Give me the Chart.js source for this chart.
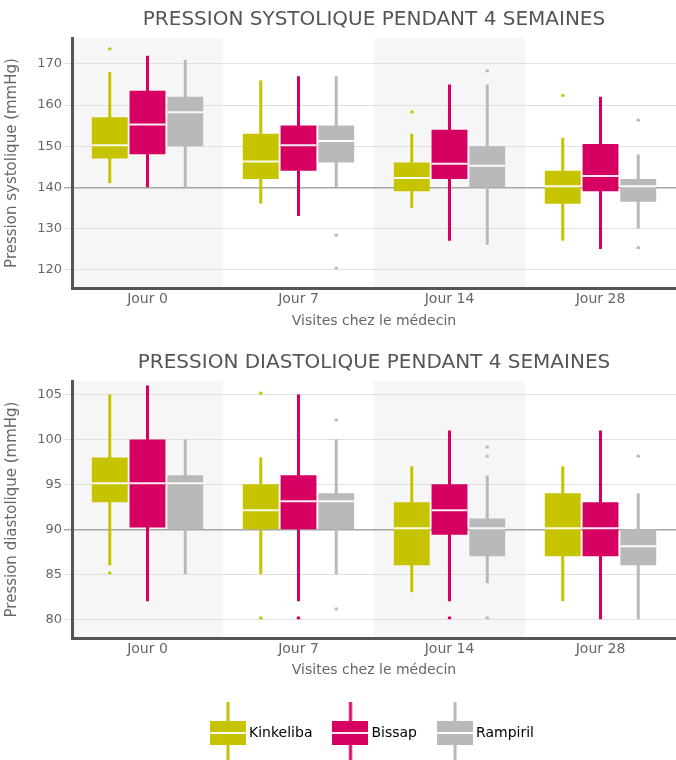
<!DOCTYPE html>
<html>
<head>
<meta charset="utf-8">
<script src="https://cdn.jsdelivr.net/npm/chart.js@4.4.1/dist/chart.umd.min.js"></script>
<style>
  body { margin: 0; background: #fff; }
  #wrap { position: relative; width: 676px; height: 760px; }
  canvas { position: absolute; left: 0; display: block; }
</style>
</head>
<body>
<div id="wrap">
  <canvas id="systolique" width="676" height="340" style="top:0"></canvas>
  <canvas id="diastolique" width="676" height="415" style="top:345px"></canvas>
</div>
<script>
var categories = ['Jour 0', 'Jour 7', 'Jour 14', 'Jour 28']
var seriesNames = ['Kinkeliba', 'Bissap', 'Rampiril']
var colors = ['#c6c300', '#d50062', '#b9b9b9']

// pression systolique : une ligne par série (Kinkeliba, Bissap, Rampiril)
var sysLow    = [[141, 136, 135, 127], [140, 133, 127, 125], [140, 140, 126, 130]]
var sysQ1     = [[147, 142, 139, 136], [148, 144, 142, 139], [150, 146, 140, 136.5]]
var sysMedian = [[150, 146, 142, 140], [155, 150, 145.5, 142.5], [158, 151, 145, 140]]
var sysQ3     = [[157, 153, 146, 144], [163.5, 155, 154, 150.5], [162, 155, 150, 142]]
var sysHigh   = [[168, 166, 153, 152], [172, 167, 165, 162], [171, 167, 165, 148]]
var sysOutliers = [
    [[173.3], [], [158], [162]],
    [[], [], [], []],
    [[], [128, 120], [168], [156, 125]]
]

// pression diastolique
var diaLow    = [[86, 85, 83, 82], [82, 82, 82, 80], [85, 85, 84, 80]]
var diaQ1     = [[93, 90, 86, 87], [90.2, 90, 89.4, 87], [90, 90, 87, 86]]
var diaMedian = [[95, 92, 90, 90], [95, 93, 92, 90], [95, 93, 90, 88]]
var diaQ3     = [[98, 95, 93, 94], [100, 96, 95, 93], [96, 94, 91.2, 90]]
var diaHigh   = [[105, 98, 97, 97], [106, 105, 101, 101], [100, 100, 96, 94]]
var diaOutliers = [
    [[85], [105, 80], [], []],
    [[], [80], [80], []],
    [[], [102, 81], [99, 98, 80], [98]]
]

var sysReference = 140
var diaReference = 90

Chart.defaults.font.family = 'DejaVu Sans'
Chart.defaults.color = '#666'

function buildDatasets(low, q1, med, q3, high, outliers) {
    var sets = []
    // médianes en premier pour qu'elles soient dessinées au-dessus
    seriesNames.forEach(function(name, s) {
        sets.push({
            label: name, stack: name,
            data: med[s].map(function(v) { return [v, v] }),
            backgroundColor: 'rgba(255,255,255,0.92)',
            barPercentage: 0.95, categoryPercentage: 0.75, minBarLength: 2
        })
    })
    seriesNames.forEach(function(name, s) {
        sets.push({
            label: name, stack: name,
            data: q1[s].map(function(v, i) { return [v, q3[s][i]] }),
            backgroundColor: colors[s],
            barPercentage: 0.95, categoryPercentage: 0.75
        })
    })
    seriesNames.forEach(function(name, s) {
        sets.push({
            label: name, stack: name,
            data: low[s].map(function(v, i) { return [v, high[s][i]] }),
            backgroundColor: colors[s],
            barPercentage: 0.08, categoryPercentage: 0.75
        })
    })
    seriesNames.forEach(function(name, s) {
        var n = Math.max.apply(null, outliers[s].map(function(o) { return o.length }))
        for (var k = 0; k < n; k++) {
            sets.push({
                label: name, stack: name,
                data: outliers[s].map(function(o) { return o[k] === undefined ? null : [o[k], o[k]] }),
                backgroundColor: colors[s],
                barPercentage: 0.09, categoryPercentage: 0.75, minBarLength: 3, borderRadius: 2
            })
        }
    })
    return sets
}

// bandes grises derrière Jour 0 et Jour 14
var bandsPlugin = {
    id: 'bands',
    beforeDraw: function(chart) {
        var x = chart.scales.x, area = chart.chartArea, ctx = chart.ctx
        var w = x.width / categories.length
        ctx.save()
        ctx.fillStyle = '#f6f6f6'
        categories.forEach(function(c, i) {
            if (i % 2 === 0) {
                var center = x.getPixelForValue(i)
                ctx.fillRect(center - w / 2, area.top, w, area.bottom - area.top)
            }
        })
        ctx.restore()
    },
    // la légende coupe ses icônes : on agrandit sa zone vers le bas
    afterLayout: function(chart) {
        if (chart.legend && chart.legend.options.display) {
            chart.legend.bottom += 14
            chart.legend.height += 14
        }
    }
}

function makeIcon(color) {
    var c = document.createElement('canvas')
    c.width = 36
    c.height = 62
    var g = c.getContext('2d')
    g.fillStyle = color
    g.fillRect(16.5, 0, 3, 62)
    g.fillRect(0, 19, 36, 24)
    g.fillStyle = 'rgba(255,255,255,0.92)'
    g.fillRect(0, 30, 36, 2)
    return c
}

function drawChart(id, conf) {
    var ctx = document.getElementById(id).getContext('2d')
    return new Chart(ctx, {
        type: 'bar',
        data: {
            labels: categories,
            datasets: buildDatasets(conf.low, conf.q1, conf.med, conf.q3, conf.high, conf.outliers)
        },
        plugins: [bandsPlugin],
        options: {
            responsive: false,
            animation: false,
            layout: { padding: { bottom: conf.bottomPad } },
            plugins: {
                tooltip: { enabled: false },
                title: {
                    display: true, text: conf.title, fullSize: false,
                    color: '#555', font: { size: 20, weight: 'normal' },
                    padding: conf.titlePad
                },
                legend: conf.legend
            },
            scales: {
                x: {
                    grid: { display: false, drawTicks: false },
                    border: { color: '#555', width: 3 },
                    ticks: { font: { size: 14 }, color: '#666', padding: 3 },
                    title: {
                        display: true, text: 'Visites chez le médecin',
                        font: { size: 14 }, color: '#666',
                        padding: { top: 4, bottom: conf.xTitlePad }
                    },
                    afterFit: function(s) { s.height = conf.xHeight }
                },
                y: {
                    stacked: false,
                    min: conf.min, max: conf.max,
                    border: { color: '#555', width: 3 },
                    grid: {
                        tickLength: 8,
                        color: function(c) { return c.tick && c.tick.value === conf.reference ? '#a6a6a6' : '#e0e0e0' },
                        lineWidth: function(c) { return c.tick && c.tick.value === conf.reference ? 1.4 : 1 }
                    },
                    ticks: { stepSize: conf.step, includeBounds: false, font: { size: 13 }, color: '#666', padding: 2 },
                    title: {
                        display: true, text: conf.yTitle,
                        font: { size: 15 }, color: '#666', padding: { top: 3, bottom: 4 }
                    },
                    afterFit: function(s) { s.width = 72 }
                }
            }
        }
    })
}

drawChart('systolique', {
    title: 'PRESSION SYSTOLIQUE PENDANT 4 SEMAINES',
    yTitle: 'Pression systolique (mmHg)',
    low: sysLow, q1: sysQ1, med: sysMedian, q3: sysQ3, high: sysHigh, outliers: sysOutliers,
    min: 115.5, max: 176.3, step: 10, reference: sysReference,
    titlePad: { top: 8, bottom: 6 }, xHeight: 52, xTitlePad: 10.6, bottomPad: 0,
    legend: { display: false }
})

var icons = colors.map(makeIcon)

drawChart('diastolique', {
    title: 'PRESSION DIASTOLIQUE PENDANT 4 SEMAINES',
    yTitle: 'Pression diastolique (mmHg)',
    low: diaLow, q1: diaQ1, med: diaMedian, q3: diaQ3, high: diaHigh, outliers: diaOutliers,
    min: 77.9, max: 106.5, step: 5, reference: diaReference,
    titlePad: { top: 6, bottom: 6 }, xHeight: 64, xTitlePad: 23.6, bottomPad: 10,
    legend: {
        display: true, position: 'bottom', fullSize: false,
        labels: {
            usePointStyle: true, pointStyleWidth: 28, padding: 24,
            color: '#666', font: { size: 14 },
            generateLabels: function() {
                return seriesNames.map(function(n, i) {
                    return { text: n, pointStyle: icons[i], fillStyle: colors[i], strokeStyle: colors[i], lineWidth: 0, hidden: false, datasetIndex: i }
                })
            }
        }
    }
})
</script>
</body>
</html>
